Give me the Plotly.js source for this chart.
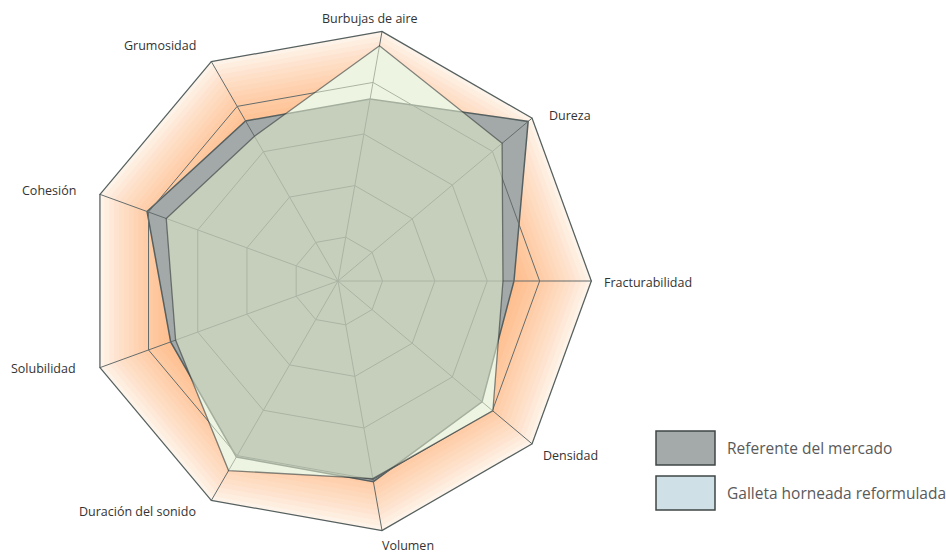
<!DOCTYPE html>
<html>
<head>
<meta charset="utf-8">
<script src="https://cdn.plot.ly/plotly-3.0.1.min.js"></script>
<style>
  html, body { margin: 0; padding: 0; background: #ffffff; }
  #chart { width: 946px; height: 554px; }
</style>
</head>
<body>
<div id="chart"></div>
<script>
// ---- data ----
var categories = ['Fracturabilidad', 'Dureza', 'Burbujas de aire', 'Grumosidad', 'Cohesión',
                  'Solubilidad', 'Duración del sonido', 'Volumen', 'Densidad'];
var referente = [3.51, 4.89, 3.68, 3.68, 4.03, 3.55, 4.03, 4.04, 3.74];
var galleta   = [3.30, 4.24, 4.71, 3.34, 3.64, 3.45, 4.33, 3.98, 4.01];
var seriesNames = ['Referente del mercado', 'Galleta horneada reformulada'];
var gridLevels = [1, 2, 3, 4];
var outerLevel = 5;
var radialMin = 0.15;

// ---- helpers ----
function closed(arr) { return arr.concat([arr[0]]); }
var thetaClosed = closed(categories);
function ring(level) { return categories.map(function () { return level; }); }

var traces = [];

// orange radial glow (stacked translucent polygons)
traces.push({
  type: 'scatterpolar', mode: 'lines', fill: 'toself',
  r: closed(ring(outerLevel)), theta: thetaClosed,
  fillcolor: 'rgba(248,145,45,0.11)', line: {width: 0, color: 'rgba(0,0,0,0)'},
  hoverinfo: 'skip', showlegend: false
});
for (var k = 1; k <= 20; k++) {
  var lv = outerLevel - 0.1 * k;
  traces.push({
    type: 'scatterpolar', mode: 'lines', fill: 'toself',
    r: closed(ring(lv)), theta: thetaClosed,
    fillcolor: 'rgba(248,145,45,0.045)', line: {width: 0, color: 'rgba(0,0,0,0)'},
    hoverinfo: 'skip', showlegend: false
  });
}

// white underlays so series areas are not tinted by the glow
[galleta, referente].forEach(function (s) {
  traces.push({
    type: 'scatterpolar', mode: 'lines', fill: 'toself',
    r: closed(s), theta: thetaClosed,
    fillcolor: '#ffffff', line: {width: 0, color: 'rgba(0,0,0,0)'},
    hoverinfo: 'skip', showlegend: false
  });
});

// Referente del mercado
traces.push({
  type: 'scatterpolar', mode: 'lines', fill: 'toself', name: seriesNames[0],
  r: closed(referente), theta: thetaClosed,
  fillcolor: 'rgb(163,168,168)', line: {width: 1.5, color: '#576060'},
  hoverinfo: 'skip', showlegend: false
});

// grid rings and spokes
var gr = [], gt = [];
gridLevels.forEach(function (g) {
  gr = gr.concat(closed(ring(g)), [null]);
  gt = gt.concat(thetaClosed, [null]);
});
categories.forEach(function (c) {
  gr = gr.concat([radialMin, outerLevel, null]);
  gt = gt.concat([c, c, null]);
});
traces.push({
  type: 'scatterpolar', mode: 'lines', r: gr, theta: gt,
  line: {width: 1, color: '#646c6c'}, connectgaps: false,
  hoverinfo: 'skip', showlegend: false
});

// Galleta horneada reformulada
traces.push({
  type: 'scatterpolar', mode: 'lines', fill: 'toself', name: seriesNames[1],
  r: closed(galleta), theta: thetaClosed,
  fillcolor: 'rgba(225,235,204,0.57)', line: {width: 1.3, color: 'rgba(50,56,56,0.6)'},
  hoverinfo: 'skip', showlegend: false
});

// outer ring
traces.push({
  type: 'scatterpolar', mode: 'lines',
  r: closed(ring(outerLevel)), theta: thetaClosed,
  line: {width: 2.5, color: '#556060'},
  hoverinfo: 'skip', showlegend: false
});

// ---- layout ----
var W = 946, H = 554;
function px(x) { return x / W; }
function py(y) { return 1 - y / H; }
var cx = 338, cy = 281, R = 254;

// category label placement (pixels): [x, y, xanchor]
var labelPlace = [
  [603, 282, 'left'], [548, 115, 'left'], [370, 18, 'center'],
  [197, 46, 'right'], [77, 190, 'right'], [77, 368, 'right'],
  [197, 511, 'right'], [408, 545, 'center'], [542, 455, 'left']
];
var labelFont = {family: 'Open Sans, sans-serif', size: 12.5, color: '#333333'};
var annotations = categories.map(function (c, i) {
  var p = labelPlace[i];
  return {xref: 'paper', yref: 'paper', x: px(p[0]), y: py(p[1]),
          xanchor: p[2], yanchor: 'middle', showarrow: false, text: c,
          font: labelFont, borderpad: 0};
});

var legendBoxes = [
  {y0: 431, y1: 465, color: '#a4a9a9'},
  {y0: 476, y1: 510, color: '#cfe0e6'}
];
var shapes = legendBoxes.map(function (b) {
  return {type: 'rect', xref: 'paper', yref: 'paper',
          x0: px(656), x1: px(715), y0: py(b.y1), y1: py(b.y0),
          fillcolor: b.color, line: {color: '#3f4545', width: 1.5}};
});
seriesNames.forEach(function (n, i) {
  var b = legendBoxes[i];
  annotations.push({xref: 'paper', yref: 'paper', x: px(726), y: py((b.y0 + b.y1) / 2),
          xanchor: 'left', yanchor: 'middle', showarrow: false, text: n, borderpad: 0,
          font: {family: 'Open Sans, sans-serif', size: 15.5, color: '#5a5a5a'}});
});

var layout = {
  width: W, height: H,
  margin: {l: 0, r: 0, t: 0, b: 0},
  paper_bgcolor: '#ffffff',
  showlegend: false,
  polar: {
    domain: {x: [px(cx - R), px(cx + R)], y: [py(cy + R), py(cy - R)]},
    bgcolor: 'rgba(0,0,0,0)',
    gridshape: 'linear',
    radialaxis: {range: [radialMin, outerLevel], visible: false, showgrid: false},
    angularaxis: {
      type: 'category', categoryorder: 'array', categoryarray: categories,
      rotation: 0, direction: 'counterclockwise',
      showgrid: false, showline: false, ticks: '', showticklabels: false
    }
  },
  shapes: shapes,
  annotations: annotations
};

Plotly.newPlot('chart', traces, layout, {displayModeBar: false, staticPlot: true});
</script>
</body>
</html>
